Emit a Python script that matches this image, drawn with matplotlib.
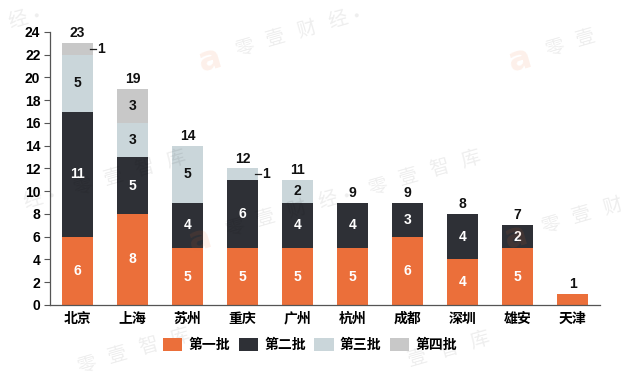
import matplotlib
matplotlib.use('Agg')
import matplotlib.pyplot as plt
import numpy as np

plt.rcParams['font.family'] = ['Liberation Sans', 'Noto Sans CJK SC', 'DejaVu Sans']
plt.rcParams['font.weight'] = 'bold'

# data
cities = ['北京', '上海', '苏州', '重庆', '广州', '杭州', '成都', '深圳', '雄安', '天津']
batch1 = [6, 8, 5, 5, 5, 5, 6, 4, 5, 1]
batch2 = [11, 5, 4, 6, 4, 4, 3, 4, 2, 0]
batch3 = [5, 3, 5, 1, 2, 0, 0, 0, 0, 0]
batch4 = [1, 3, 0, 0, 0, 0, 0, 0, 0, 0]
names = ['第一批', '第二批', '第三批', '第四批']
colors = ['#EB6F3A', '#2E3036', '#CAD6DA', '#C8C8C8']
text_colors = ['white', 'white', '#111111', '#111111']

series = [batch1, batch2, batch3, batch4]
x = np.arange(len(cities))
w = 0.56

W, H = 628, 376
fig = plt.figure(figsize=(W / 100, H / 100), dpi=100)
ax = fig.add_axes([0.0796, 0.189, 0.876, 0.726])

bottom = np.zeros(len(cities))
for k, vals in enumerate(series):
    vals = np.array(vals, dtype=float)
    ax.bar(x, vals, w, bottom=bottom, color=colors[k], label=names[k], zorder=2)
    for i, v in enumerate(vals):
        if v >= 2:
            ax.text(x[i], bottom[i] + v / 2, '%d' % v, ha='center', va='center',
                    color=text_colors[k], fontsize=10, fontweight='bold', zorder=3)
        elif v == 1 and k > 0:
            # small segment: label beside the bar with a short dash
            yc = bottom[i] + 0.5
            ax.plot([x[i] + 0.23, x[i] + 0.33], [yc, yc], color='#222222', lw=0.9,
                    zorder=3, clip_on=False)
            ax.text(x[i] + 0.35, yc, '1', ha='left', va='center', color='#111111',
                    fontsize=10, fontweight='bold', zorder=3)
    bottom += vals

for i, t in enumerate(bottom):
    ax.text(x[i], t + 0.25, '%d' % t, ha='center', va='bottom', color='#111111',
            fontsize=10, fontweight='bold')

ax.set_xlim(-0.5, 9.5)
ax.set_ylim(0, 24)
ax.set_yticks(range(0, 25, 2))
ax.set_xticks(x)
ax.set_xticklabels(cities, fontsize=10, fontweight='bold')
ax.tick_params(axis='x', length=0, pad=5)
ax.tick_params(axis='y', length=4, width=0.8, color='#555555', labelsize=10, pad=3)
for lab in ax.get_yticklabels():
    lab.set_fontweight('bold')
for s in ['top', 'right']:
    ax.spines[s].set_visible(False)
for s in ['left', 'bottom']:
    ax.spines[s].set_color('#555555')
    ax.spines[s].set_linewidth(0.9)

fig.legend(loc='center', bbox_to_anchor=(310 / W, 1 - 345 / H), ncol=4,
           frameon=False, fontsize=10, handlelength=1.4, handleheight=1.05,
           handletextpad=0.45, columnspacing=0.6)

# faint watermark, drawn glyph by glyph so nothing hangs over the edge
wm_chars = ['零', '壹', '财', '经', '·', '零', '壹', '智', '库']
wm_steps = [0, 1, 2, 3, 3.6, 4.6, 5.6, 6.6, 7.6]
wm_logos = [(-110, 60), (210, 60), (520, 60), (-95, 240), (200, 240), (516, 237),
            (-91, 418), (209, 421)]
ang = np.deg2rad(16)
step = 31
m = 11
for lx, ly in wm_logos:
    if m < lx < W - m and m < ly < H - m:
        fig.text(lx / W, 1 - ly / H, 'a', color='#F26B2A', alpha=0.1, fontsize=24,
                 fontweight='bold', rotation=16, ha='center', va='center',
                 family='DejaVu Sans', zorder=5)
    for ch, s in zip(wm_chars, wm_steps):
        cx = lx + 35 + s * step
        cy = ly - 13 - s * step * np.tan(ang)
        if m < cx < W - m and m < cy < H - m:
            fig.text(cx / W, 1 - cy / H, ch, color='black', alpha=0.07, fontsize=14,
                     rotation=16, ha='center', va='center', fontweight='normal',
                     family=['Noto Sans CJK SC'], zorder=5)

fig.savefig('out.png', dpi=100)
